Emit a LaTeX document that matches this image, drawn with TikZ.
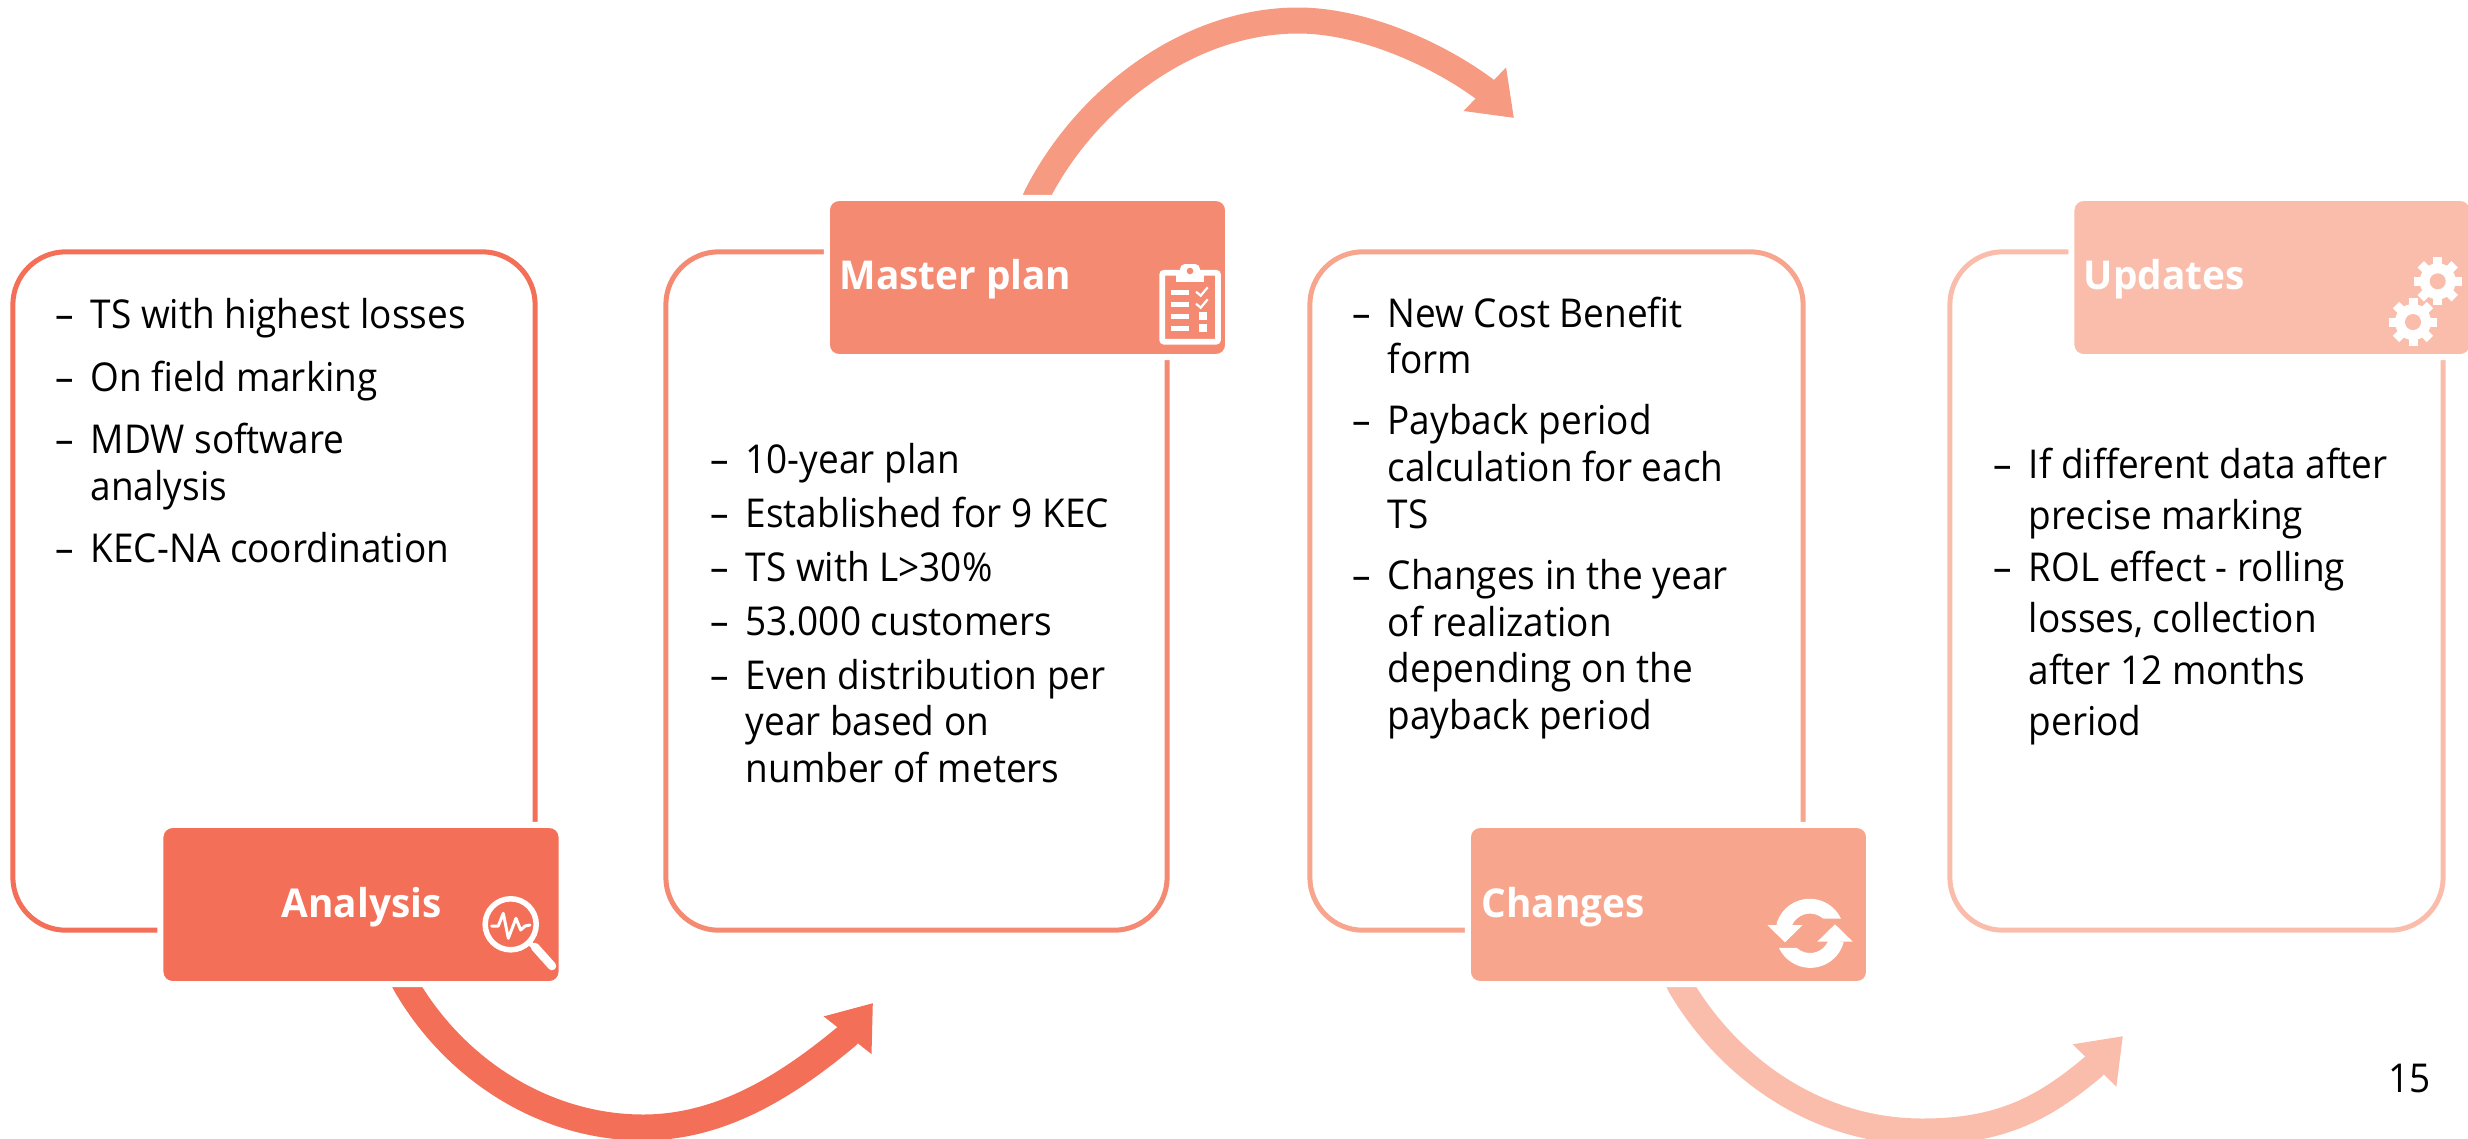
\documentclass[tikz,border=0pt]{standalone}
\usepackage{fontspec}
\setmainfont{Open Sans}[UprightFeatures={FakeStretch=0.93},BoldFeatures={FakeStretch=0.975}]
\usepackage{tikz}
\usetikzlibrary{arrows.meta, backgrounds}

\definecolor{stepA}{HTML}{F46F58}
\definecolor{stepB}{HTML}{F58A72}
\definecolor{stepC}{HTML}{F7A58D}
\definecolor{stepD}{HTML}{FABDAB}
\definecolor{arrowB}{HTML}{F69A82}

\newcommand{\dl}{\makebox[0.35cm][l]{--}}
\newcommand{\cl}{\hspace*{0.35cm}}

\newcommand{\gearicon}[2]{%
	\fill[white] (#1,#2) circle[radius=0.18cm];
	\foreach \ang in {0,45,...,315}
		\draw[white,line width=0.09cm] (#1,#2) -- ++(\ang:24);
	\fill[stepD] (#1,#2) circle[radius=0.08cm];
}

\tikzset{
	panel/.style = {rectangle, rounded corners=0.53cm, line width=0.05cm, minimum height=6.78cm},
	tagbox/.style = {rectangle, rounded corners=0.12cm, draw=white, line width=0.06cm, minimum width=4.01cm, minimum height=1.59cm},
	taglabel/.style = {anchor=base west, inner sep=0pt, text=white, font=\fontsize{11.3}{13.3}\selectfont\bfseries},
	bodytext/.style = {anchor=north west, inner sep=0pt, align=left, font=\fontsize{11.3}{13.3}\selectfont},
	flow/.style = {line width=0.26cm, -{Triangle[length=0.41cm,width=0.58cm]}},
	iconline/.style = {white, line width=0.045cm},
}

\begin{document}
\begin{tikzpicture}[x=0.01cm,y=-0.01cm]
		\useasboundingbox (0,0) rectangle (2468,1138);
		
		\node[panel,draw=stepA,minimum width=5.22cm] (panelAnalysis) at (274,591) {};
		\node[panel,draw=stepB,minimum width=5.01cm] (panelMaster) at (916.5,591) {};
		\node[panel,draw=stepC,minimum width=4.93cm] (panelChanges) at (1556.5,591) {};
		\node[panel,draw=stepD,minimum width=4.93cm] (panelUpdates) at (2196.5,591) {};
		
		\node[tagbox,fill=stepA] (tagAnalysis) at (361,904.5) {};
		\node[tagbox,fill=stepB] (tagMaster) at (1027.5,277.5) {};
		\node[tagbox,fill=stepC] (tagChanges) at (1668.5,904.5) {};
		\node[tagbox,fill=stepD] (tagUpdates) at (2272,277.5) {};
		
		\node[taglabel] (labelAnalysis) at (281,917) {Analysis};
		\node[taglabel] (labelMaster) at (839,289) {Master plan};
		\node[taglabel] (labelChanges) at (1481,917) {Changes};
		\node[taglabel] (labelUpdates) at (2083,289) {Updates};
		
		%%%%%%%%%%%%%%%%%%%%%%%%%%%%%%
		
		\node[bodytext] (textAnalysis) at (55,298) {\dl TS with highest losses\\[0.155cm]
			\dl On field marking\\[0.155cm]
			\dl MDW software\\
			\cl analysis\\[0.155cm]
			\dl KEC-NA coordination};
		\node[bodytext] (textMaster) at (710,443) {\dl 10-year plan\\[0.07cm]
			\dl Established for 9 KEC\\[0.07cm]
			\dl TS with L>30\%\\[0.07cm]
			\dl 53.000 customers\\[0.07cm]
			\dl Even distribution per\\
			\cl year based on\\
			\cl number of meters};
		\node[bodytext] (textChanges) at (1352,296) {\dl New Cost Benefit\\
			\cl form\\[0.142cm]
			\dl Payback period\\
			\cl calculation for each\\
			\cl TS\\[0.142cm]
			\dl Changes in the year\\
			\cl of realization\\
			\cl depending on the\\
			\cl payback period};
		\node[bodytext] (textUpdates) at (1993,447) {\dl If different data after\\[0.047cm]
			\cl precise marking\\[0.047cm]
			\dl ROL effect - rolling\\[0.047cm]
			\cl losses, collection\\[0.047cm]
			\cl after 12 months\\[0.047cm]
			\cl period};
		
		\node[inner sep=0pt,anchor=base east,font=\fontsize{11.3}{13.3}\selectfont] (pageNumber) at (2431,1092) {15};
		
		%%%%%%%%%%%%%%%%%%%%%%%%%%%%%%
		
		\coordinate (tipAnalysis) at (873,1003);
		\coordinate (tipMaster) at (1514,118);
		\coordinate (tipChanges) at (2123,1036);
		
		\begin{scope}[on background layer]
			\draw[flow,stepA] ([xshift=0.41cm,yshift=0.09cm]tagAnalysis.south) -- (407,987)
				.. controls (458,1073) and (548,1127.5) .. (643,1127.5)
				.. controls (721,1127.5) and (787,1086) .. (847,1036) -- (tipAnalysis);
			\draw[flow,arrowB] ([xshift=0.05cm,yshift=-0.1cm]tagMaster.north) -- (1037,195)
				.. controls (1087,97) and (1190,20.5) .. (1298,20.5)
				.. controls (1365,20.5) and (1440,56) .. (1484.5,89) -- (tipMaster);
			\draw[flow,stepD] ([xshift=0.08cm,yshift=0.09cm]tagChanges.south) -- (1681,987)
				.. controls (1733,1074) and (1822,1131.5) .. (1922,1131.5)
				.. controls (2000,1131.5) and (2043,1109) .. (2093,1067) -- (tipChanges);
		\end{scope}
		
		%%%%%%%%%%%%%%%%%%%%%%%%%%%%%%
		
		% magnifier
		\draw[white,line width=0.055cm] (510.7,924.3) circle[radius=0.255cm];
		\draw[white,line width=0.05cm] (528,942) -- (536,948);
		\draw[white,line width=0.085cm,line cap=round] (535,947) -- (552,966);
		\draw[white,line width=0.03cm,line cap=round,line join=round] (491.7,926) -- (498.3,926) -- (503.3,913.3) -- (508.3,938.3) -- (516,918.3) -- (520.7,930) -- (525,926) -- (530,925);
		
		% clipboard
		\draw[white,line width=0.057cm,rounded corners=0.02cm] (1162.2,272.8) rectangle (1218,341.7);
		\fill[white,rounded corners=0.05cm] (1180,264) rectangle (1200,278);
		\fill[white] (1176,270) rectangle (1204,282);
		\fill[stepB] (1190,271) circle[radius=0.033cm];
		\foreach \ypos in {292.3,304.3,316.3,328.3}
			\draw[iconline] (1171,\ypos) -- (1189,\ypos);
		\foreach \ypos in {0,12}
			\draw[white,line width=0.022cm] (1196,291.7+\ypos) -- (1200.7,295.7+\ypos) -- (1207.7,287.3+\ypos);
		\fill[white] (1199.3,312) rectangle (1207,320);
		\fill[white] (1199.3,324) rectangle (1207,332);
		
		% sync arrows
		\foreach \ang in {0,180}{
			\begin{scope}[rotate around={\ang:(1810,933.3)}]
				\fill[white] (1841,918.7) arc (25:165:0.345cm) -- (1791,928.2) arc (165:48:0.197cm) -- cycle;
				\fill[white] (1767.3,925) -- (1802.7,925) -- (1785,942.3) -- cycle;
			\end{scope}
		}
		
		% gears
		\gearicon{2437.7}{281.3}
		\gearicon{2413}{322}
		
	\end{tikzpicture}
\end{document}
